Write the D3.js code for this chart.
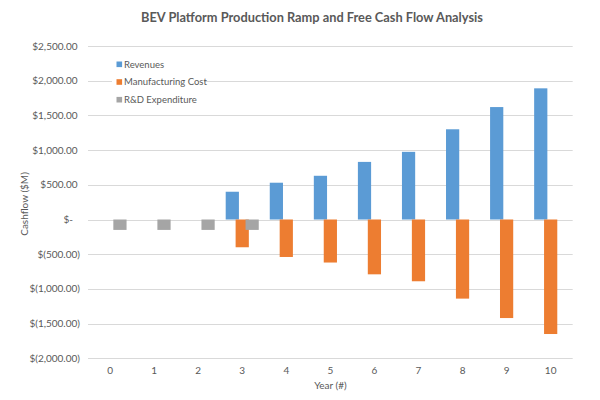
<!DOCTYPE html>
<html><head><meta charset="utf-8">
<script src="https://cdn.jsdelivr.net/npm/d3@7"></script>
<style>
html,body{margin:0;padding:0;background:#fff;}
svg{display:block;font-family:Lato,"Open Sans",sans-serif;}
</style></head>
<body>
<svg id="chart" width="600" height="400"></svg>
<script>
const years = ["0","1","2","3","4","5","6","7","8","9","10"];
const revenues = [0,0,0,400,530,630,830,975,1300,1620,1890];
const manufacturingCost = [0,0,0,-400,-540,-620,-790,-890,-1140,-1420,-1650];
const rdExpenditure = [-150,-150,-150,-150,0,0,0,0,0,0,0];
const seriesNames = ["Revenues","Manufacturing Cost","R&D Expenditure"];
const seriesColors = ["#5B9BD5","#ED7D31","#A5A5A5"];
const yTicks = [-2000,-1500,-1000,-500,0,500,1000,1500,2000,2500];

const svg = d3.select("#chart");
const W = 600, H = 400;
const m = {left:88, right:27.3, top:46, bottom:41.7};

const x = d3.scaleBand().domain(years).range([m.left, W - m.right]).padding(0);
const y = d3.scaleLinear().domain([-2000, 2500]).range([H - m.bottom, m.top]);

// gridlines
svg.append("g").selectAll("line").data(yTicks).join("line")
  .attr("x1", m.left).attr("x2", W - m.right)
  .attr("y1", d => Math.round(y(d)) + 0.5).attr("y2", d => Math.round(y(d)) + 0.5)
  .attr("stroke", "#d9d9d9").attr("stroke-width", 1);

// y tick labels (accounting format)
const fmtNum = d3.format(",.2f");
function acct(d){
  if (d === 0) return "$-";
  if (d < 0) return "$(" + fmtNum(-d) + ")";
  return "$" + fmtNum(d);
}
svg.append("g").selectAll("text").data(yTicks).join("text")
  .attr("x", d => d === 0 ? 73 : (d < 0 ? 80 : 77.5))
  .attr("y", d => y(d))
  .attr("dy", "0.35em")
  .attr("text-anchor", "end")
  .attr("font-size", 10)
  .attr("fill", "#595959")
  .text(acct);

// x tick labels
svg.append("g").selectAll("text").data(years).join("text")
  .attr("x", d => x(d) + x.bandwidth()/2)
  .attr("y", 374)
  .attr("text-anchor", "middle")
  .attr("font-size", 10)
  .attr("fill", "#595959")
  .text(d => d);

// bars
const allSeries = [revenues, manufacturingCost, rdExpenditure];
const bw = x.bandwidth();
const barW = bw * 0.3;
const step = bw * 0.225;
allSeries.forEach((vals, si) => {
  const off = (si - 1) * step;
  svg.append("g").selectAll("rect").data(vals.map((v,i)=>({v, c:years[i]})).filter(d => d.v !== 0)).join("rect")
    .attr("x", d => x(d.c) + bw/2 + off - barW/2)
    .attr("width", barW)
    .attr("y", d => y(Math.max(0, d.v)))
    .attr("height", d => Math.abs(y(d.v) - y(0)))
    .attr("fill", seriesColors[si]);
});

// legend
const lg = svg.append("g");
lg.append("rect").attr("x", 112).attr("y", 55).attr("width", 92).attr("height", 52).attr("fill", "#fff");
seriesNames.forEach((n, i) => {
  const cy = 64.3 + i * 17.7;
  lg.append("rect").attr("x", 116.5).attr("y", cy - 2.8).attr("width", 5.6).attr("height", 5.6).attr("fill", seriesColors[i]);
  lg.append("text").attr("x", 124).attr("y", cy).attr("dy", "0.35em")
    .attr("font-size", 9.5).attr("fill", "#595959").text(n);
});

// title
svg.append("text").attr("x", 312).attr("y", 22).attr("text-anchor", "middle")
  .attr("font-size", 12.8).attr("font-weight", "bold").attr("fill", "#595959")
  .text("BEV Platform Production Ramp and Free Cash Flow Analysis");

// axis titles
svg.append("text").attr("transform", "translate(28,204) rotate(-90)")
  .attr("text-anchor", "middle").attr("font-size", 10).attr("fill", "#595959")
  .text("Cashflow ($M)");
svg.append("text").attr("x", 330.4).attr("y", 389).attr("text-anchor", "middle")
  .attr("font-size", 10).attr("fill", "#595959").text("Year (#)");
</script>
</body></html>
